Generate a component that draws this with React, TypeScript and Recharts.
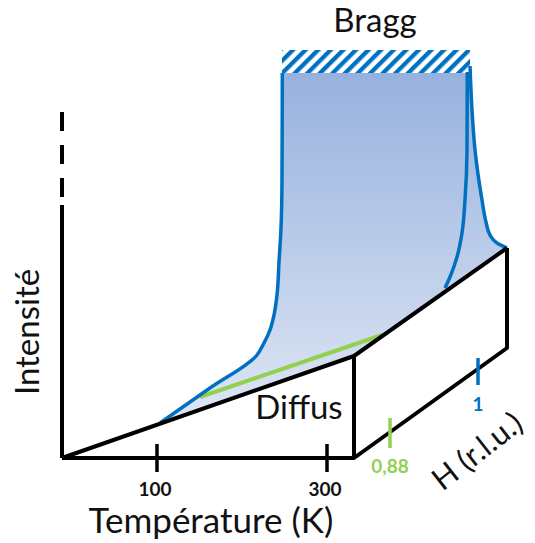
import * as React from "react";
import {
  ComposedChart,
  Line,
  Area,
  XAxis,
  YAxis,
  ReferenceArea,
  ReferenceDot,
} from "recharts";

// schematic frame: x to the right, y downward, same units as the drawing
const intensityAxis = [{ x: 62, y: 458 }, { x: 62, y: 205 }];
const intensityBreak = [{ x: 62, y: 197 }, { x: 62, y: 112 }];
const temperatureAxis = [{ x: 62, y: 458 }, { x: 354, y: 458 }];
const diffuseEdge = [{ x: 62, y: 458 }, { x: 354, y: 356 }, { x: 507, y: 248 }];
const boxEdges = [{ x: 354, y: 356 }, { x: 354, y: 458 }, { x: 507, y: 348 }, { x: 507, y: 248 }];

const tempTicks = [157, 327];
const tempTickLabels = ["100", "300"];
const hTicks = [{ x: 390, y: 448 }, { x: 478, y: 385 }];
const hTickLabels = ["0,88", "1"];

// Bragg peak curves
const braggLeft = [
  { x: 160, y: 423 }, { x: 210, y: 388 }, { x: 257, y: 355 }, { x: 264, y: 343 },
  { x: 270, y: 330 }, { x: 274, y: 315 }, { x: 277, y: 295 }, { x: 279, y: 262 },
  { x: 281, y: 228 }, { x: 282, y: 180 }, { x: 282.3, y: 73 },
];
const braggInner = [
  { x: 445, y: 288 }, { x: 450, y: 277 }, { x: 457, y: 257 }, { x: 462, y: 233 },
  { x: 465, y: 200 }, { x: 467, y: 150 }, { x: 467.3, y: 72 },
];
const braggOuter = [
  { x: 470, y: 66 }, { x: 472, y: 110 }, { x: 475, y: 150 }, { x: 482, y: 200 },
  { x: 486, y: 222 }, { x: 490, y: 235 }, { x: 497, y: 243 }, { x: 507, y: 248 },
];
const diffuseLine = [{ x: 200, y: 397 }, { x: 382, y: 335 }];

const braggTop = { x1: 282, x2: 470, y1: 50, y2: 73 };
const peakFill = [...braggLeft, { x: braggTop.x2, y: braggTop.y2 }, ...braggOuter.slice(1)];

const BLUE = "#0070c0";
const GREEN = "#92d050";
const FONT = "Lato";

const seg = (data: { x: number; y: number }[], color: string, w: number, key: string, extra: any = {}) => (
  <Line
    key={key}
    data={data}
    dataKey="y"
    type="linear"
    stroke={color}
    strokeWidth={w}
    dot={false}
    activeDot={false}
    isAnimationActive={false}
    {...extra}
  />
);

const text = (x: number, y: number, value: string, size: number, color = "#111", extra: any = {}) => (
  <ReferenceDot
    key={value}
    x={x}
    y={y}
    r={0}
    fill="none"
    stroke="none"
    ifOverflow="visible"
    label={{ value, position: "center", fill: color, fontSize: size, fontFamily: FONT, ...extra }}
  />
);

export default function App() {
  return (
    <div>
      <style>{"body{margin:0}"}</style>
      <ComposedChart width={535} height={543} margin={{ top: 0, right: 0, bottom: 0, left: 0 }}>
        <defs>
          <linearGradient id="peakGrad" x1="0" y1="0" x2="0" y2="1">
            <stop offset="0%" stopColor="#97b1de" />
            <stop offset="75%" stopColor="#dfe7f5" />
          </linearGradient>
          <pattern id="hatch" width="8.9" height="8.9" patternUnits="userSpaceOnUse" patternTransform="rotate(45)">
            <rect x="0" y="0" width="4.3" height="8.9" fill={BLUE} />
          </pattern>
        </defs>
        <XAxis type="number" dataKey="x" domain={[0, 535]} hide allowDataOverflow />
        <YAxis type="number" dataKey="y" domain={[0, 543]} reversed hide allowDataOverflow />

        <Area
          data={peakFill}
          dataKey="y"
          type="linear"
          baseValue={543}
          stroke="none"
          fill="url(#peakGrad)"
          fillOpacity={1}
          isAnimationActive={false}
          activeDot={false}
        />
        <Area
          data={diffuseEdge}
          dataKey="y"
          type="linear"
          baseValue={543}
          stroke="none"
          fill="#ffffff"
          fillOpacity={1}
          isAnimationActive={false}
          activeDot={false}
        />
        <ReferenceArea {...braggTop} fill="url(#hatch)" fillOpacity={1} stroke="none" ifOverflow="visible" />

        {seg(diffuseLine, GREEN, 4, "green")}
        {seg(braggLeft, BLUE, 3.5, "bl", { type: "monotoneY" })}
        {seg(braggInner, BLUE, 3.5, "bi", { type: "monotoneY" })}
        {seg(braggOuter, BLUE, 3.5, "bo", { type: "monotoneY" })}

        {seg(intensityAxis, "#000", 4, "ia")}
        {seg(intensityBreak, "#000", 4, "ib", { strokeDasharray: "19 14" })}
        {seg(temperatureAxis, "#000", 4, "ta")}
        {seg(diffuseEdge, "#000", 4, "de", { strokeLinejoin: "round" })}
        {seg(boxEdges, "#000", 4, "be", { strokeLinejoin: "round" })}
        {tempTicks.map((t) => seg([{ x: t, y: 444 }, { x: t, y: 472 }], "#000", 3.5, "tt" + t))}
        {seg([{ x: hTicks[0].x, y: 418 }, hTicks[0]], GREEN, 3.5, "ht0")}
        {seg([{ x: hTicks[1].x, y: 358 }, hTicks[1]], BLUE, 3.5, "ht1")}

        {text(375, 20, "Bragg", 33)}
        {text(299, 407, "Diffus", 33)}
        {text(211, 521, "Température (K)", 35)}
        {text(27, 332, "Intensité", 33, "#111", { angle: -90 })}
        {tempTicks.map((t, i) => text(t - 2, 489, tempTickLabels[i], 19, "#111", { fontWeight: "bold" }))}
        {text(hTicks[0].x, 466, hTickLabels[0], 19, GREEN, { fontWeight: "bold" })}
        {text(hTicks[1].x, 404, hTickLabels[1], 19, BLUE, { fontWeight: "bold" })}
        {text(477, 451, "H (r.l.u.)", 31, "#111", { angle: -38 })}
      </ComposedChart>
    </div>
  );
}
